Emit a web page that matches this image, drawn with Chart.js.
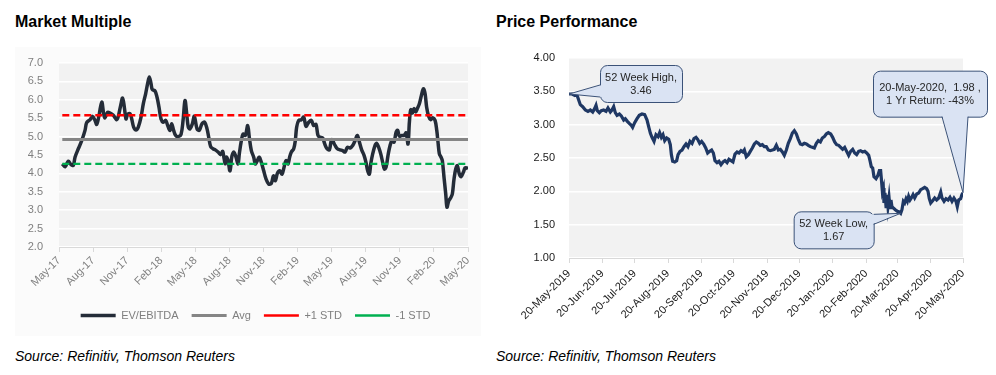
<!DOCTYPE html>
<html>
<head>
<meta charset="utf-8">
<script src="https://cdn.jsdelivr.net/npm/chart.js@4.4.1/dist/chart.umd.min.js"></script>
<style>
  body { margin:0; background:#fff; width:996px; height:375px; position:relative; overflow:hidden; }
  .title { position:absolute; top:14px; font:bold 16px/16px "Liberation Sans", Arial, sans-serif; color:#000; white-space:nowrap; }
  .src { position:absolute; top:349px; font:italic 14px/14px "Liberation Sans", Arial, sans-serif; color:#000; white-space:nowrap; }
  #panel1 { position:absolute; left:15px; top:47px; width:466px; height:289px; background:#FBFBFB; }
  #c1 { position:absolute; left:15px; top:45px; }
  #c2 { position:absolute; left:495px; top:45px; }
</style>
</head>
<body>
<div class="title" style="left:15px">Market Multiple</div>
<div class="title" style="left:496px">Price Performance</div>
<div id="panel1"></div>
<canvas id="c1" width="465" height="290"></canvas>
<canvas id="c2" width="495" height="300"></canvas>
<div class="src" style="left:15px">Source: Refinitiv, Thomson Reuters</div>
<div class="src" style="left:496px">Source: Refinitiv, Thomson Reuters</div>
<script>
// ---------- Market Multiple data ----------
const quarterLabels = ['May-17','Aug-17','Nov-17','Feb-18','May-18','Aug-18','Nov-18','Feb-19','May-19','Aug-19','Nov-19','Feb-20','May-20'];
const quarterTicks = [0,3,6,9,12,15,18,21,24,27,30,33,36]; // months since May-17
const evMonths = [
  0.29,0.53,0.82,1.06,1.26,1.41,1.70,2.00,2.29,2.44,2.73,2.96,3.17,3.32,3.52,3.76,3.93,4.05,4.28,4.49,
  4.78,5.08,5.22,5.43,5.60,5.75,5.90,6.04,6.25,6.40,6.57,6.78,6.98,7.22,7.42,7.63,7.80,7.95,8.10,8.21,
  8.45,8.63,8.80,8.98,9.18,9.39,9.57,9.77,9.92,10.09,10.27,10.50,10.74,10.92,11.09,11.24,11.38,11.53,11.74,11.91,
  12.15,12.35,12.59,12.82,13.03,13.18,13.35,13.56,13.76,14.00,14.23,14.41,14.52,14.64,14.73,14.88,15.05,15.23,15.40,15.58,
  15.76,15.87,16.05,16.20,16.40,16.61,16.75,16.93,17.14,17.28,17.46,17.63,17.81,18.02,18.22,18.46,18.69,18.87,19.04,19.22,
  19.43,19.63,19.81,19.98,20.16,20.30,20.45,20.66,20.80,20.92,21.10,21.33,21.54,21.74,21.98,22.21,22.42,22.62,22.80,23.00,
  23.21,23.39,23.59,23.80,
  24.00,24.30,24.50,24.74,24.97,25.18,25.38,25.62,25.85,26.06,26.26,26.44,26.64,26.85,27.02,27.17,27.32,27.44,27.61,27.82,
  27.96,28.14,28.32,28.49,28.64,28.79,28.96,29.14,29.31,29.49,29.67,29.81,29.96,30.17,30.37,30.55,30.72,30.84,30.96,31.10,
  31.25,31.40,31.54,31.72,31.90,32.07,32.22,32.36,32.54,32.72,32.89,33.10,33.25,33.36,33.48,33.63,33.74,33.89,34.04,34.15,
  34.30,34.48,34.62,34.77,34.92,35.06,35.24,35.39,35.59,35.74,35.89,36.00
];
const evValues = [
  4.26,4.18,4.33,4.24,4.22,4.44,4.67,4.89,5.17,5.38,5.46,5.55,5.44,5.33,5.57,5.94,5.62,5.51,5.66,5.64,
  5.58,5.46,5.55,5.85,6.05,5.80,5.48,5.60,5.62,5.48,5.26,5.18,5.26,5.53,5.89,6.17,6.44,6.62,6.44,6.28,
  6.24,6.07,5.80,5.48,5.39,5.44,5.30,5.17,5.35,5.17,5.03,5.00,5.06,5.44,5.98,5.62,5.26,5.21,5.35,5.55,
  5.21,5.17,5.35,5.39,5.21,4.98,4.73,4.67,4.64,4.58,4.51,4.60,4.42,4.26,4.44,4.35,4.07,4.48,4.58,4.44,
  4.26,4.53,4.89,5.07,5.03,5.30,4.98,4.62,4.44,4.26,4.35,4.44,4.30,4.07,3.85,3.71,3.73,3.93,3.80,4.00,
  4.07,3.98,4.17,4.35,4.26,4.44,4.58,4.67,4.89,5.26,5.44,5.46,5.53,5.28,5.39,5.44,5.30,5.33,5.03,4.98,
  4.96,4.80,4.67,4.64,
  4.92,4.76,4.67,4.64,4.62,4.58,4.71,4.69,4.76,4.89,5.03,4.85,4.64,4.49,4.30,4.07,3.98,4.26,4.53,4.76,
  4.82,4.71,4.53,4.30,4.12,4.17,4.49,4.76,4.89,4.85,5.12,5.17,5.01,5.03,5.03,5.10,4.80,5.39,5.73,5.64,
  5.76,5.67,5.76,5.89,6.12,6.30,6.17,5.80,5.55,5.46,5.51,5.44,5.17,4.85,4.53,4.44,4.35,3.89,3.44,3.08,
  3.25,3.34,3.44,3.85,4.12,4.21,3.98,3.91,4.03,4.15,4.15,4.12
];
const avgValue = 4.92;
const plusStdValue = 5.58;
const minusStdValue = 4.26;

// ---------- Price Performance data ----------
const monthLabels = ['20-May-2019','20-Jun-2019','20-Jul-2019','20-Aug-2019','20-Sep-2019','20-Oct-2019','20-Nov-2019','20-Dec-2019','20-Jan-2020','20-Feb-2020','20-Mar-2020','20-Apr-2020','20-May-2020'];
const monthTicks = [0,31,61,92,123,153,184,214,245,276,305,336,366]; // days since 20-May-2019
const priceDays = [
  0,2.8,5.3,7.1,9.0,10.5,12.7,15.2,17.6,19.8,22.0,23.8,25.1,26.3,28.2,30.0,32.2,34.4,36.2,38.4,
  39.9,41.5,43.0,44.6,46.8,48.6,50.8,52.3,54.2,56.0,57.9,59.1,61.0,63.2,65.3,67.8,70.3,72.5,74.0,75.6,
  77.1,79.0,80.8,82.7,84.2,85.8,87.3,88.9,90.7,92.6,94.1,95.1,96.3,98.2,100.0,101.3,103.1,105.0,106.8,108.7,
  110.5,112.4,114.3,116.1,118.0,
  119.5,121.4,123.2,125.1,127.0,128.8,130.7,132.5,134.1,135.6,137.5,139.3,141.2,143.1,144.9,146.8,148.6,150.5,152.3,154.2,
  156.1,157.9,159.8,161.6,162.9,164.7,166.6,168.4,170.3,172.2,174.0,175.9,177.7,179.6,181.4,183.3,185.2,187.0,188.9,190.7,
  192.6,194.5,196.3,198.2,200.0,201.9,203.7,205.6,207.5,209.3,211.2,213.0,214.9,216.7,218.6,220.5,222.3,224.2,226.0,227.9,
  229.8,231.6,233.5,235.3,237.2,239.0,240.9,
  243.1,244.9,246.8,248.6,250.5,252.4,254.2,256.1,257.9,259.8,261.6,263.5,265.4,267.2,269.1,270.9,272.8,274.7,276.5,278.4,
  279.6,280.8,282.1,283.3,285.2,287.0,288.3,289.5,290.1,291.1,292.0,292.6,293.5,294.5,295.4,296.3,297.3,298.2,299.1,300.0,
  301.3,303.1,305.0,306.9,308.1,309.3,310.6,311.8,313.1,314.3,315.5,316.8,318.0,319.6,321.1,323.0,324.8,326.7,328.5,330.4,
  332.2,333.5,334.7,336.0,337.8,339.7,341.5,343.4,345.3,346.5,348.4,350.2,352.1,353.9,355.8,357.6,359.5,360.7,362.0,363.8,
  365.0,366.0
];
const priceValues = [
  3.46,3.46,3.44,3.46,3.37,3.30,3.27,3.22,3.20,3.22,3.19,3.24,3.29,3.21,3.18,3.21,3.22,3.20,3.25,3.19,
  3.22,3.27,3.18,3.14,3.16,3.13,3.07,3.09,3.05,3.02,2.99,2.96,3.03,3.09,3.14,3.16,3.15,3.07,2.97,2.87,
  2.81,2.75,2.85,2.82,2.88,2.81,2.85,2.76,2.80,2.78,2.70,2.55,2.45,2.44,2.46,2.55,2.60,2.62,2.67,2.71,
  2.67,2.75,2.72,2.79,2.81,
  2.78,2.72,2.75,2.71,2.65,2.575,2.60,2.62,2.575,2.46,2.43,2.45,2.40,2.44,2.46,2.43,2.48,2.46,2.44,2.56,
  2.59,2.575,2.61,2.59,2.62,2.52,2.55,2.60,2.65,2.71,2.74,2.72,2.69,2.70,2.67,2.67,2.62,2.61,2.62,2.63,
  2.69,2.62,2.63,2.59,2.54,2.62,2.72,2.79,2.875,2.91,2.86,2.78,2.71,2.70,2.72,2.71,2.69,2.67,2.66,2.65,
  2.72,2.76,2.74,2.80,2.82,2.86,2.88,
  2.86,2.81,2.74,2.70,2.69,2.66,2.63,2.66,2.60,2.54,2.60,2.63,2.575,2.55,2.60,2.61,2.59,2.60,2.575,2.54,
  2.46,2.37,2.35,2.22,2.19,2.24,2.31,2.31,2.20,2.00,2.05,1.825,1.975,1.77,1.95,1.775,1.91,1.755,1.87,1.77,
  1.75,1.725,1.70,1.69,1.67,1.725,1.85,1.825,1.89,1.85,1.925,1.87,1.90,1.95,1.90,1.96,1.975,2.025,2.04,2.06,
  2.04,2.00,1.89,1.825,1.86,1.90,1.87,1.90,1.99,1.90,1.85,1.89,1.87,1.91,1.85,1.90,1.85,1.77,1.87,1.89,
  1.95,1.98
];

// ---------- helpers ----------
const plotBg = {
  id: 'plotBg',
  beforeDraw(chart) {
    const {ctx, chartArea: a} = chart;
    ctx.save();
    ctx.fillStyle = '#F2F2F2';
    ctx.fillRect(a.left, a.top, a.right - a.left, a.bottom - a.top);
    ctx.restore();
  }
};
// nudge the legend row to the right so it sits under the plot like the original
const legendShift = {
  id: 'legendShift',
  afterLayout(chart) {
    if (chart.legend) { chart.legend.left += 14; chart.legend.right += 14; }
  }
};
const pts = (xs, ys) => xs.map((x, i) => ({x, y: ys[i]}));
const firstM = evMonths[0], lastM = evMonths[evMonths.length - 1];
const flat = v => [{x: firstM, y: v}, {x: lastM, y: v}];

// ---------- Chart 1 ----------
new Chart(document.getElementById('c1'), {
  type: 'line',
  data: {
    datasets: [
      {label: 'EV/EBITDA', data: pts(evMonths, evValues), borderColor: '#242C38', backgroundColor: '#242C38',
       borderWidth: 3.5, pointRadius: 0, tension: 0.35, order: 1},
      {label: 'Avg', data: flat(avgValue), borderColor: '#858585', backgroundColor: '#858585',
       borderWidth: 3, pointRadius: 0, order: 0},
      {label: '+1 STD', data: flat(plusStdValue), borderColor: '#FF0000', backgroundColor: '#FF0000',
       borderWidth: 2.3, borderDash: [7, 4], pointRadius: 0, order: 0},
      {label: '-1 STD', data: flat(minusStdValue), borderColor: '#00B050', backgroundColor: '#00B050',
       borderWidth: 2.3, borderDash: [7, 4], pointRadius: 0, order: 0}
    ]
  },
  options: {
    responsive: false, animation: false, devicePixelRatio: 1,
    layout: {padding: {left: 0, right: 12, top: 18, bottom: 4}},
    plugins: {
      tooltip: {enabled: false},
      legend: {
        position: 'bottom',
        labels: {
          usePointStyle: true, pointStyle: 'line', pointStyleWidth: 35, padding: 13,
          color: '#7F7F7F', font: {family: 'Liberation Sans', size: 11},
          sort: (a, b) => a.datasetIndex - b.datasetIndex
        }
      }
    },
    scales: {
      x: {
        type: 'linear', min: 0, max: 36,
        afterBuildTicks: s => { s.ticks = quarterTicks.map(v => ({value: v})); },
        afterFit: s => { s.height = 50; },
        grid: {drawOnChartArea: false, drawTicks: true, tickLength: 5, color: '#D9D9D9'},
        border: {display: true, color: '#D9D9D9'},
        ticks: {autoSkip: false, maxRotation: 45, minRotation: 45, padding: 2, color: '#7F7F7F',
                font: {family: 'Liberation Sans', size: 11},
                callback: v => quarterLabels[quarterTicks.indexOf(v)]}
      },
      y: {
        min: 2, max: 7,
        afterFit: s => { s.width = 44; },
        grid: {color: '#FFFFFF', lineWidth: 1.5, drawTicks: true, tickLength: 16, tickColor: 'rgba(0,0,0,0)'},
        border: {display: false},
        ticks: {stepSize: 0.5, padding: 0, color: '#7F7F7F', font: {family: 'Liberation Sans', size: 11},
                callback: v => Number(v).toFixed(1)}
      }
    }
  },
  plugins: [plotBg, legendShift]
});

// ---------- Chart 2 ----------
const hiVal = Math.max(...priceValues);
const loVal = Math.min(...priceValues);
const hiIdx = priceValues.indexOf(hiVal);
const loIdx = priceValues.indexOf(loVal);
const lastIdx = priceValues.length - 1;
const ret = Math.round((priceValues[lastIdx] / hiVal - 1) * 100);

const callouts = {
  id: 'callouts',
  afterDatasetsDraw(chart) {
    const {ctx, scales: {x, y}} = chart;
    const items = [
      {i: hiIdx, lines: ['52 Week High,', hiVal.toFixed(2)], dx: 31, dy: -29, w: 82, h: 37, side: 'left', b1: 20, b2: 32},
      {i: loIdx, lines: ['52 Week Low,', loVal.toFixed(2)], dx: -107, dy: -2, w: 80, h: 37, side: 'right', b1: 3, b2: 13},
      {i: lastIdx, lines: ['20-May-2020,  ' + priceValues[lastIdx].toFixed(2) + ' ,', '1 Yr Return: ' + ret + '%'],
       dx: -90, dy: -122, w: 114, h: 46, side: 'bottom', b1: 69, b2: 95}
    ];
    ctx.save();
    items.forEach(c => {
      const ax = x.getPixelForValue(priceDays[c.i]);
      const ay = y.getPixelForValue(priceValues[c.i]);
      const bx = ax + c.dx, by = ay + c.dy;
      let p1, p2, q1, q2;
      if (c.side === 'left') { p1 = [bx, by + c.b1]; p2 = [bx, by + c.b2]; q1 = [bx + 2, p1[1]]; q2 = [bx + 2, p2[1]]; }
      else if (c.side === 'right') { p1 = [bx + c.w, by + c.b1]; p2 = [bx + c.w, by + c.b2]; q1 = [p1[0] - 2, p1[1]]; q2 = [p2[0] - 2, p2[1]]; }
      else { p1 = [bx + c.b1, by + c.h]; p2 = [bx + c.b2, by + c.h]; q1 = [p1[0], p1[1] - 2]; q2 = [p2[0], p2[1] - 2]; }
      ctx.fillStyle = '#DAE3F3';
      ctx.strokeStyle = '#3B5278';
      ctx.lineWidth = 1;
      ctx.beginPath();
      ctx.roundRect(bx + 0.5, by + 0.5, c.w, c.h, 7);
      ctx.fill();
      ctx.stroke();
      ctx.beginPath();
      ctx.moveTo(ax, ay); ctx.lineTo(q1[0], q1[1]); ctx.lineTo(q2[0], q2[1]); ctx.closePath();
      ctx.fill();
      ctx.beginPath();
      ctx.moveTo(p1[0], p1[1]); ctx.lineTo(ax, ay); ctx.lineTo(p2[0], p2[1]);
      ctx.stroke();
      ctx.fillStyle = '#262626';
      ctx.font = '11px "Liberation Sans", Arial, sans-serif';
      ctx.textAlign = 'center';
      ctx.textBaseline = 'middle';
      const lh = 13;
      const cy = by + c.h / 2 + 0.5;
      c.lines.forEach((t, k) => ctx.fillText(t, bx + c.w / 2, cy + (k - (c.lines.length - 1) / 2) * lh));
    });
    ctx.restore();
  }
};

new Chart(document.getElementById('c2'), {
  type: 'line',
  data: {
    datasets: [
      {label: 'Price', data: pts(priceDays, priceValues), borderColor: '#1F3864', borderWidth: 3.2,
       pointRadius: 0, tension: 0}
    ]
  },
  options: {
    responsive: false, animation: false, devicePixelRatio: 1,
    layout: {padding: {left: 0, right: 27, top: 13, bottom: 7}},
    plugins: {legend: {display: false}, tooltip: {enabled: false}},
    scales: {
      x: {
        type: 'linear', min: 0, max: 366,
        afterBuildTicks: s => { s.ticks = monthTicks.map(v => ({value: v})); },
        afterFit: s => { s.height = 80; },
        grid: {drawOnChartArea: false, drawTicks: true, tickLength: 5, color: '#D9D9D9'},
        border: {display: true, color: '#D9D9D9'},
        ticks: {autoSkip: false, maxRotation: 45, minRotation: 45, padding: 4, color: '#1A1A1A',
                font: {family: 'Liberation Sans', size: 11},
                callback: v => monthLabels[monthTicks.indexOf(v)]}
      },
      y: {
        min: 1, max: 4,
        afterFit: s => { s.width = 74; },
        grid: {color: '#FFFFFF', lineWidth: 1.5, drawTicks: true, tickLength: 14, tickColor: 'rgba(0,0,0,0)'},
        border: {display: false},
        ticks: {stepSize: 0.5, padding: 0, color: '#1A1A1A', font: {family: 'Liberation Sans', size: 11},
                callback: v => Number(v).toFixed(2)}
      }
    }
  },
  plugins: [plotBg, callouts]
});
</script>
</body>
</html>
